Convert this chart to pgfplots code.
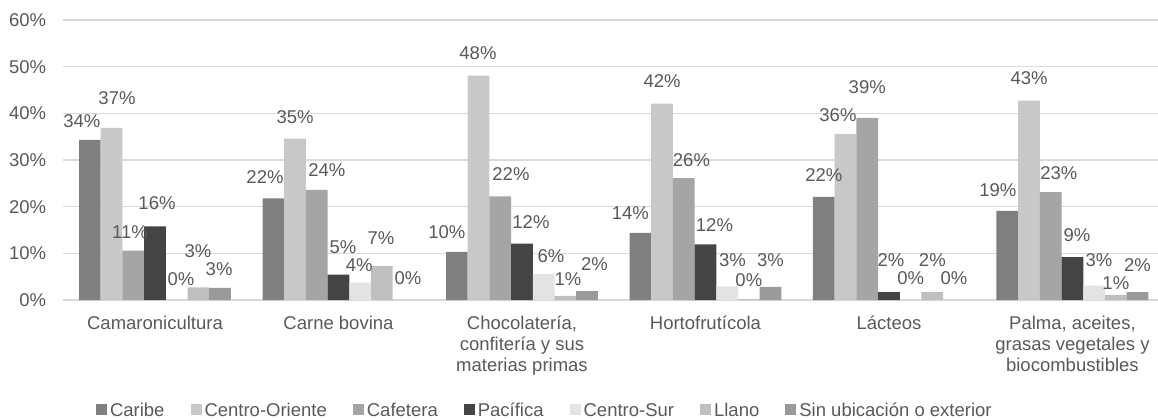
\documentclass[border=0pt]{standalone}
\usepackage{pgfplots}
\pgfplotsset{compat=1.18}
\usepackage{pgfplotstable}
\usepackage{fontspec}
\setmainfont{Liberation Sans}
\definecolor{txt}{HTML}{595959}
\definecolor{gridc}{HTML}{D9D9D9}
\definecolor{cCaribe}{HTML}{7F7F7F}
\definecolor{cCO}{HTML}{C8C8C8}
\definecolor{cCaf}{HTML}{A5A5A5}
\definecolor{cPac}{HTML}{444444}
\definecolor{cCS}{HTML}{E3E3E3}
\definecolor{cLla}{HTML}{BFBFBF}
\definecolor{cSin}{HTML}{9A9A9A}

\pgfplotstableread{
x y lab dx dy
0 34.3 34 -8 12
1 21.8 22 -8.4 15
2 10.3 10 -10 13
3 14.4 14 -10 13
4 22.1 22 0 15
5 19.1 19 -9.4 14
}\caribe
\pgfplotstableread{
x y lab dx dy
0 36.9 37 5.4 23
1 34.6 35 0 15
2 48.1 48 -0.6 16
3 42.1 42 0 16
4 35.6 36 -7.6 12
5 42.7 43 0 16
}\centrooriente
\pgfplotstableread{
x y lab dx dy
0 10.6 11 -3.3 12
1 23.6 24 10 13
2 22.2 22 10.7 16
3 26.1 26 7.7 12
4 39.0 39 0 24
5 23.1 23 8.2 13
}\cafetera
\pgfplotstableread{
x y lab dx dy
0 15.8 16 2 17
1 5.45 5 4.5 21
2 12.1 12 9 15
3 11.9 12 9 13
4 1.7 2 2 26
5 9.2 9 4.5 16
}\pacifica
\pgfplotstableread{
x y lab dx dy
0 0 0 4.3 15
1 3.7 4 -1 11
2 5.55 6 7.3 12
3 2.9 3 5.3 20
4 0 0 0 16
5 3.1 3 4.8 19
}\centrosur
\pgfplotstableread{
x y lab dx dy
0 2.7 3 -0.4 30
1 7.3 7 -1 21
2 0.9 1 2.6 10
3 0.2 0 0 13
4 1.7 2 0 26
5 1.1 1 0 5
}\llano
\pgfplotstableread{
x y lab dx dy
0 2.6 3 -1 12
1 0 0 4.4 16
2 1.9 2 7.4 21
3 2.8 3 0 20
4 0 0 0 16
5 1.7 2 0 21
}\sinubic

\newcommand\chartfont{\fontsize{18.5bp}{21bp}\selectfont}

\begin{document}
\begin{tikzpicture}
\useasboundingbox (0,0) rectangle (1158bp,420bp);
\begin{axis}[
  at={(63.25bp,120bp)}, anchor=south west,
  scale only axis, width=1101bp, height=280bp,
  xmin=-0.5, xmax=5.5, ymin=0, ymax=60,
  ybar=0pt, bar width=21.7bp,
  every axis plot post/.append style={
    legend image code/.code={\fill[##1] (0bp,-5.5bp) rectangle (11bp,5.5bp); \path (14bp,0bp);}},
  axis line style={draw=none},
  major tick length=0pt,
  ytick={0,10,20,30,40,50,60},
  yticklabels={0\%,10\%,20\%,30\%,40\%,50\%,60\%},
  xtick={0,1,2,3,4,5},
  xticklabels={Camaronicultura, Carne bovina, {Chocolatería,\\confitería y sus\\materias primas}, Hortofrutícola, Lácteos, {Palma, aceites,\\grasas vegetales y\\biocombustibles}},
  ymajorgrids, grid style={draw=gridc, line width=1.3bp},
  tick label style={font=\chartfont, text=txt},
  yticklabel style={anchor=east, inner sep=0pt, xshift=-17bp},
  xticklabel style={anchor=north, inner sep=0pt, yshift=-15.5bp, align=center},
  clip=false,
  point meta=explicit symbolic,
  nodes near coords={\pgfplotspointmeta\%},
  visualization depends on={\thisrow{dx} \as \dx},
  visualization depends on={\thisrow{dy} \as \dy},
  every node near coord/.append style={font=\chartfont, text=txt, anchor=base, inner sep=0pt, xshift=\dx bp, yshift=\dy bp},
  legend columns=-1,
  legend style={at={(0.02975,-0.392)}, anchor=west, draw=none, fill=none, inner sep=0pt, outer sep=0pt, font=\chartfont, text=txt,
    nodes={inner sep=0pt, text height=13.2bp, text depth=0pt},
    /tikz/every even column/.append style={column sep=26bp}},
]
\addplot[fill=cCaribe, draw=none] table[x=x, y=y, meta=lab] {\caribe};
\addplot[fill=cCO, draw=none] table[x=x, y=y, meta=lab] {\centrooriente};
\addplot[fill=cCaf, draw=none] table[x=x, y=y, meta=lab] {\cafetera};
\addplot[fill=cPac, draw=none] table[x=x, y=y, meta=lab] {\pacifica};
\addplot[fill=cCS, draw=none] table[x=x, y=y, meta=lab] {\centrosur};
\addplot[fill=cLla, draw=none] table[x=x, y=y, meta=lab] {\llano};
\addplot[fill=cSin, draw=none] table[x=x, y=y, meta=lab] {\sinubic};
\legend{Caribe, Centro-Oriente, Cafetera, Pacífica, Centro-Sur, Llano, Sin ubicación o exterior}
\end{axis}
\end{tikzpicture}
\end{document}
